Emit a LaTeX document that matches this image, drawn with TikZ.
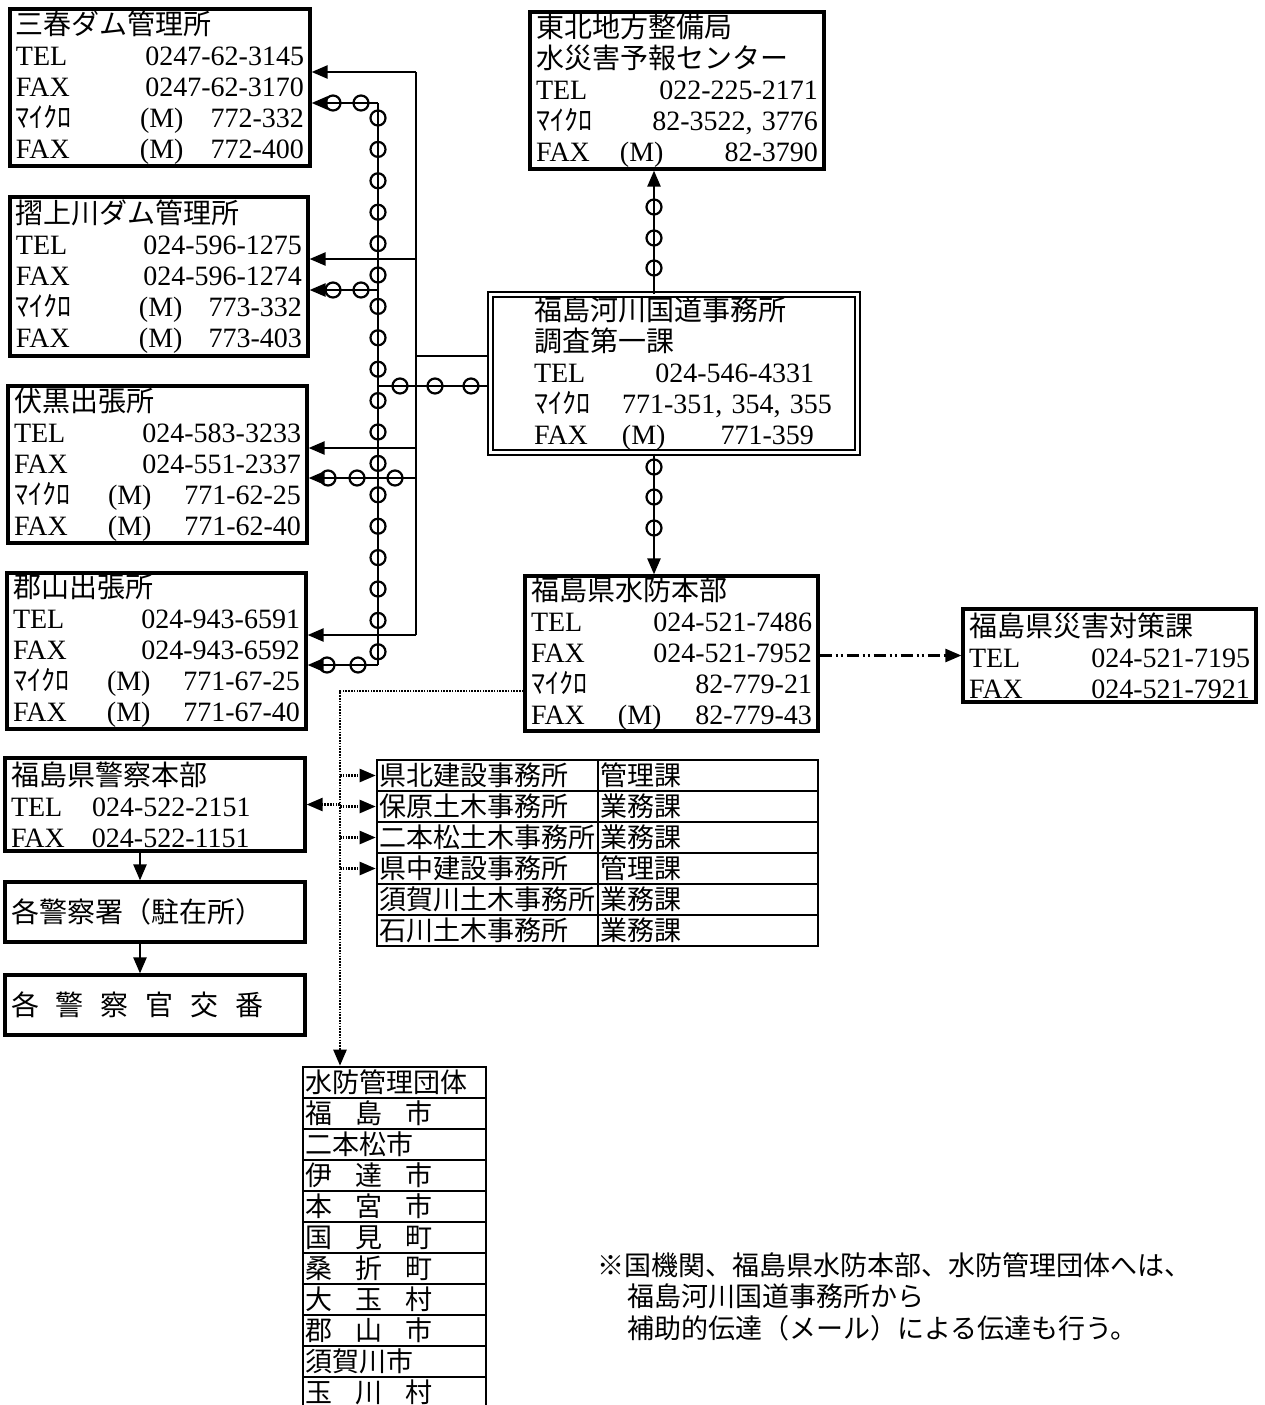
\documentclass[tikz,border=0pt]{standalone}
\usepackage{fontspec}
\setmainfont{Liberation Serif}
\newfontfamily\jp{Noto Sans CJK JP}
\usetikzlibrary{arrows.meta}

\pgfdeclarelayer{background layer}
\pgfsetlayers{background layer,main}

\newcommand{\headrow}[1]{\hbox{\jp #1}\par}
\newcommand{\telrow}[4]{\hbox to\hsize{\makebox[#1][l]{#2}#3\hfill#4}\par}
\newcommand{\mw}{{\jp ﾏｲｸﾛ}}
\newcommand{\spread}[3]{\makebox[128pt][s]{#1\hfil#2\hfil#3}}

\begin{document}
\begin{tikzpicture}[x=1pt, y=-1pt,
box/.style={draw, line width=3.2pt, inner xsep=6pt, inner ysep=0pt, font=\fontsize{28}{31}\selectfont},
cell/.style={draw, line width=2.6pt, inner xsep=2pt, inner ysep=0pt, minimum height=31pt, font=\jp\fontsize{27}{31}\selectfont},
wire/.style={line width=2.4pt},
ring/.style={line width=2.2pt},
dotline/.style={line width=2.4pt, dash pattern=on 1.6pt off 1.2pt},
arrowed/.style={-{Triangle[length=16pt,width=13pt]}}
]
\useasboundingbox (0,0) rectangle (1264,1405);

% dams and offices on the left
\node[box, minimum width=300pt, minimum height=157pt, text width=288pt] (miharu) at (160,87.5) {
\headrow{三春ダム管理所}
\telrow{124pt}{TEL}{}{0247-62-3145}
\telrow{124pt}{FAX}{}{0247-62-3170}
\telrow{124pt}{\mw}{(M)}{772-332}
\telrow{124pt}{FAX}{(M)}{772-400}};
\node[box, minimum width=298pt, minimum height=159pt, text width=286pt] (suri) at (159,276.5) {
\headrow{摺上川ダム管理所}
\telrow{123pt}{TEL}{}{024-596-1275}
\telrow{123pt}{FAX}{}{024-596-1274}
\telrow{123pt}{\mw}{(M)}{773-332}
\telrow{123pt}{FAX}{(M)}{773-403}};
\node[box, minimum width=299pt, minimum height=157pt, text width=287pt] (fushi) at (157.5,464.5) {
\headrow{伏黒出張所}
\telrow{94pt}{TEL}{}{024-583-3233}
\telrow{94pt}{FAX}{}{024-551-2337}
\telrow{94pt}{\mw}{(M)}{771-62-25}
\telrow{94pt}{FAX}{(M)}{771-62-40}};
\node[box, minimum width=299pt, minimum height=156pt, text width=287pt] (kori) at (156.5,651) {
\headrow{郡山出張所}
\telrow{94pt}{TEL}{}{024-943-6591}
\telrow{94pt}{FAX}{}{024-943-6592}
\telrow{94pt}{\mw}{(M)}{771-67-25}
\telrow{94pt}{FAX}{(M)}{771-67-40}};

% centre column
\node[box, minimum width=294pt, minimum height=157pt, text width=282pt] (tohoku) at (677,90.5) {
\headrow{東北地方整備局}
\headrow{水災害予報センター}
\telrow{84pt}{TEL}{}{022-225-2171}
\telrow{84pt}{\mw}{}{82-3522, 3776}
\telrow{84pt}{FAX}{(M)}{82-3790}};
\node[box, line width=2pt, double, double distance=2.4pt, inner xsep=0pt,
  minimum width=367pt, minimum height=158pt, text width=280pt] (kasen) at (674,373.5) {
\headrow{福島河川国道事務所}
\headrow{調査第一課}
\telrow{88pt}{TEL}{}{024-546-4331}
\telrow{88pt}{\mw}{}{771-351, 354, 355}
\telrow{88pt}{FAX}{(M)}{771-359}};
\node[box, minimum width=293pt, minimum height=155pt, text width=281pt] (suibo) at (671.5,653.5) {
\headrow{福島県水防本部}
\telrow{87pt}{TEL}{}{024-521-7486}
\telrow{87pt}{FAX}{}{024-521-7952}
\telrow{87pt}{\mw}{}{82-779-21}
\telrow{87pt}{FAX}{(M)}{82-779-43}};
\node[box, minimum width=293pt, minimum height=93pt, text width=281pt] (saigai) at (1109.5,655.5) {
\headrow{福島県災害対策課}
\telrow{100pt}{TEL}{}{024-521-7195}
\telrow{100pt}{FAX}{}{024-521-7921}};

% police
\node[box, minimum width=300pt, minimum height=93pt, text width=288pt] (police) at (155,804.5) {
\headrow{福島県警察本部}
\telrow{81pt}{TEL}{024-522-2151}{}
\telrow{81pt}{FAX}{024-522-1151}{}};
\node[box, minimum width=300pt, minimum height=60pt, text width=288pt] (station) at (155,912) {
\headrow{各警察署（駐在所）}};
\node[box, minimum width=300pt, minimum height=60pt, text width=288pt] (koban) at (155,1005) {
\hbox{\jp\makebox[252pt][s]{各\hfil 警\hfil 察\hfil 官\hfil 交\hfil 番}}\par};

% construction offices
\foreach \off/\sec [count=\i] in {県北建設事務所/管理課, 保原土木事務所/業務課,
  二本松土木事務所/業務課, 県中建設事務所/管理課, 須賀川土木事務所/業務課, 石川土木事務所/業務課} {
  \node[cell, minimum width=221pt, text width=217pt] (off\i) at (487.5,{744.5+31*\i}) {\off};
  \node[cell, minimum width=220pt, text width=216pt] (sec\i) at (708,{744.5+31*\i}) {\sec};
}

% flood fighting bodies
\foreach \name [count=\i from 0] in {水防管理団体, {\spread{福}{島}{市}}, 二本松市, {\spread{伊}{達}{市}},
  {\spread{本}{宮}{市}}, {\spread{国}{見}{町}}, {\spread{桑}{折}{町}}, {\spread{大}{玉}{村}},
  {\spread{郡}{山}{市}}, 須賀川市, {\spread{玉}{川}{村}}} {
  \node[cell, minimum width=183pt, text width=179pt] (dantai\i) at (394.5,{1082.5+31*\i}) {\name};
}

\node[anchor=north west, inner sep=0pt, text width=660pt, font=\jp\fontsize{27}{31.5}\selectfont] (note) at (597,1252) {
\hbox{※国機関、福島県水防本部、水防管理団体へは、}\par
\hbox{\hspace{30pt}福島河川国道事務所から}\par
\hbox{\hspace{30pt}補助的伝達（メール）による伝達も行う。}\par};

\coordinate (solidA) at (416,72);
\coordinate (solidB) at (416,259);
\coordinate (solidF) at (416,356);
\coordinate (solidC) at (416,448);
\coordinate (solidC2) at (416,478);
\coordinate (solidD) at (416,635);
\coordinate (microA) at (378,103);
\coordinate (microB) at (378,290);
\coordinate (microF) at (378,386);
\coordinate (microD) at (378,665);
\coordinate (rise) at (654,0);
\coordinate (dotbus) at (340,691);
\coordinate (polbus) at (140,0);

\begin{pgfonlayer}{background layer}
\draw[wire] (solidA) -- (solidD);
\draw[wire] (kasen.west |- solidF) -- (solidF);
\draw[wire] (microA) -- (microD);
\draw[wire] (kasen.west |- microF) -- (microF);
\end{pgfonlayer}{background layer}

\draw[wire, arrowed] (solidA) -- (miharu.east |- solidA);
\draw[wire, arrowed] (solidB) -- (suri.east |- solidB);
\draw[wire, arrowed] (solidC) -- (fushi.east |- solidC);
\draw[wire, arrowed] (solidD) -- (kori.east |- solidD);
\draw[wire, arrowed] (solidC2) -- (fushi.east |- solidC2);
\draw[wire, arrowed] (microA) -- (miharu.east |- microA);
\draw[wire, arrowed] (microB) -- (suri.east |- microB);
\draw[wire, arrowed] (microD) -- (kori.east |- microD);

\draw[wire, arrowed] (kasen.north -| rise) -- (tohoku.south -| rise);
\draw[wire, arrowed] (kasen.south -| rise) -- (suibo.north -| rise);

% microwave marks
\foreach \k in {0,...,17} \draw[ring] (378,{118+31.4*\k}) circle (7.5pt);
\foreach \x/\y in {333/103, 361/103, 333/290, 361/290, 400/386, 435/386, 471/386,
  328/478, 357/478, 395/478, 327/665, 358/665,
  654/207, 654/238, 654/268, 654/467, 654/497, 654/528}
  \draw[ring] (\x,\y) circle (7.5pt);

\draw[line width=2.4pt, dash pattern=on 12pt off 4pt on 2pt off 3pt on 2pt off 4pt, arrowed]
  (suibo.east |- saigai.west) -- (saigai.west);

\draw[dotline, arrowed] (suibo.west |- dotbus) -- (dotbus) -- (dotbus |- dantai0.north);
\foreach \i in {1,...,4} \draw[dotline, arrowed] (dotbus |- off\i.west) -- (off\i.west);
\draw[dotline, arrowed] (dotbus |- police.east) -- (police.east);

\draw[wire, arrowed] (police.south -| polbus) -- (station.north -| polbus);
\draw[wire, arrowed] (station.south -| polbus) -- (koban.north -| polbus);
\end{tikzpicture}
\end{document}
